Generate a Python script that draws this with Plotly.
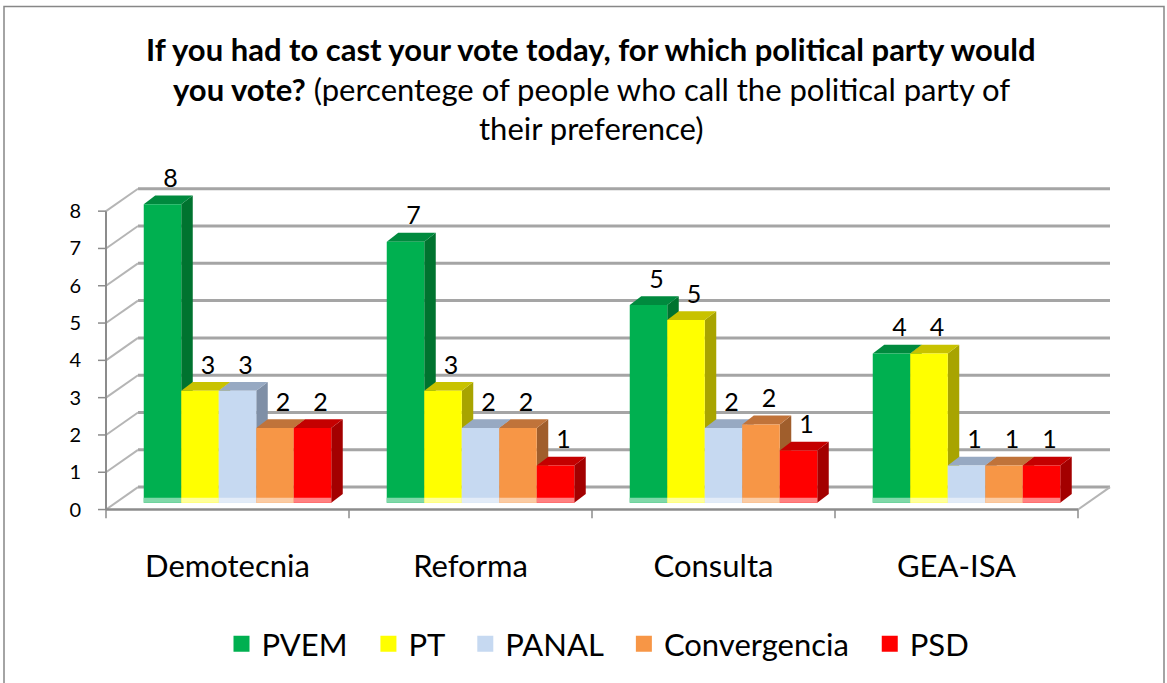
import plotly.graph_objects as go

# ---------------- data ----------------
categories = ["Demotecnia", "Reforma", "Consulta", "GEA-ISA"]
series_names = ["PVEM", "PT", "PANAL", "Convergencia", "PSD"]
pvem = [8.0, 7.0, 5.3, 4.0]
pt = [3.0, 3.0, 4.9, 4.0]
panal = [3.0, 2.0, 2.0, 1.0]
convergencia = [2.0, 2.0, 2.1, 1.0]
psd = [2.0, 1.0, 1.4, 1.0]
y_ticks = [0, 1, 2, 3, 4, 5, 6, 7, 8]

series_values = [pvem, pt, panal, convergencia, psd]

# ---------------- styles ----------------
front_colors = ["#00B050", "#FFFF00", "#C6D9F1", "#F79646", "#FF0000"]
top_colors = ["#008A3E", "#C8C200", "#97A9C2", "#C0733A", "#C40000"]
side_colors = ["#00732F", "#A8A400", "#7F8FA6", "#A05E2C", "#A30000"]
floor_colors = ["#7FD8A8", "#FFFF99", "#E3ECF8", "#FBCBA3", "#FF8080"]

FONT = "Lato"
W, H = 1167, 683
LEGEND_PAD = "\u00a0\u00a0"   # extra spacing between legend items

# plot area (pixels)
PL, PR, PT_, PB = 96, 1122, 178, 540
CATW = 243.0                  # px per category (front plane)
UNIT = 38.25                  # px per value unit (front plane)
FRONT_LEFT = 106              # front axis x=-0.5
FRONT_ZERO = 518              # front axis y=0

XMIN = -0.5 - (FRONT_LEFT - PL) / CATW
XMAX = XMIN + (PR - PL) / CATW
YMIN = -(PB - FRONT_ZERO) / UNIT
YMAX = (FRONT_ZERO - PT_) / UNIT


def dxu(px):
    return px / CATW


def dyu(px):
    return px / UNIT


def paper_x(px):
    return (px - PL) / (PR - PL)


def paper_y(py):
    return (PB - py) / (PB - PT_)


BACK_DX, BACK_DY = dxu(32), dyu(23)     # back wall offset
BAR_DX, BAR_DY = dxu(10), dyu(7)        # bar front face offset
DEP_DX, DEP_DY = dxu(11.5), dyu(9)      # bar depth
BW = dxu(37.5)                          # bar width
N = len(series_names)

fig = go.Figure()
shapes = []
grid_col = "#A5A5A5"
axis_col = "#8C8C8C"

# back wall gridlines + side wall diagonals
for v in y_ticks:
    shapes.append(dict(type="line", xref="x", yref="y", layer="below",
                       x0=-0.5 + BACK_DX, x1=3.5 + BACK_DX,
                       y0=v + BACK_DY, y1=v + BACK_DY,
                       line=dict(color=grid_col, width=3)))
    shapes.append(dict(type="line", xref="x", yref="y", layer="below",
                       x0=-0.5, x1=-0.5 + BACK_DX,
                       y0=v, y1=v + BACK_DY,
                       line=dict(color="#B5B5B5", width=2)))
    shapes.append(dict(type="line", xref="x", yref="y", layer="below",
                       x0=-0.5 - dxu(8), x1=-0.5, y0=v, y1=v,
                       line=dict(color=axis_col, width=1.5)))
# right floor diagonal
shapes.append(dict(type="line", xref="x", yref="y", layer="below",
                   x0=3.5, x1=3.5 + BACK_DX, y0=0, y1=BACK_DY,
                   line=dict(color="#B5B5B5", width=2)))
# front axes
shapes.append(dict(type="line", xref="x", yref="y", layer="below",
                   x0=-0.5, x1=3.5, y0=0, y1=0,
                   line=dict(color=axis_col, width=2.5)))
shapes.append(dict(type="line", xref="x", yref="y", layer="below",
                   x0=-0.5, x1=-0.5, y0=0, y1=max(y_ticks),
                   line=dict(color=axis_col, width=2)))
for k in range(len(categories) + 1):
    shapes.append(dict(type="line", xref="x", yref="y", layer="below",
                       x0=k - 0.5, x1=k - 0.5, y0=0, y1=-dyu(9),
                       line=dict(color=axis_col, width=1.5)))

# 3D faces of bars (drawn below the front faces), left to right
for c in range(len(categories)):
    for i in range(N):
        v = series_values[i][c]
        xc = c + BAR_DX + (i - (N - 1) / 2) * BW
        x0, x1 = xc - BW / 2, xc + BW / 2
        b, t = BAR_DY, BAR_DY + v
        side = (f"M{x1},{b} L{x1},{t} L{x1 + DEP_DX},{t + DEP_DY} "
                f"L{x1 + DEP_DX},{b + DEP_DY} Z")
        top = (f"M{x0},{t} L{x1},{t} L{x1 + DEP_DX},{t + DEP_DY} "
               f"L{x0 + DEP_DX},{t + DEP_DY} Z")
        shapes.append(dict(type="path", xref="x", yref="y", layer="below",
                           path=side, fillcolor=side_colors[i],
                           line=dict(width=0)))
        shapes.append(dict(type="path", xref="x", yref="y", layer="below",
                           path=top, fillcolor=top_colors[i],
                           line=dict(width=0)))
        shapes.append(dict(type="rect", xref="x", yref="y", layer="above",
                           x0=x0, x1=x1, y0=b, y1=b + dyu(5),
                           fillcolor=floor_colors[i], line=dict(width=0)))

label_x, label_y, label_t = [], [], []
for i in range(N):
    xs = [c + BAR_DX + (i - (N - 1) / 2) * BW for c in range(len(categories))]
    fig.add_trace(go.Bar(
        x=xs, y=series_values[i], base=BAR_DY, width=BW,
        marker=dict(color=front_colors[i], line=dict(width=0)),
        name=series_names[i], showlegend=False, hoverinfo="skip"))
    label_x += [x + dxu(8) for x in xs]
    label_y += [v + BAR_DY + dyu(24) for v in series_values[i]]
    label_t += [f"{v:.0f}" for v in series_values[i]]

fig.add_trace(go.Scatter(
    x=label_x, y=label_y, text=label_t, mode="text",
    textfont=dict(family=FONT, size=25, color="#000000"),
    showlegend=False, hoverinfo="skip", cliponaxis=False))

# legend entries
for i in range(N):
    fig.add_trace(go.Scatter(
        x=[None], y=[None], mode="markers",
        name=series_names[i] + LEGEND_PAD,
        marker=dict(symbol="square", size=16, color=front_colors[i]),
        showlegend=True))

# chart border
shapes.append(dict(type="rect", xref="paper", yref="paper", layer="above",
                   x0=paper_x(4), x1=paper_x(1164),
                   y0=paper_y(700), y1=paper_y(2),
                   line=dict(color="#878787", width=1.5),
                   fillcolor="rgba(0,0,0,0)"))

title_lines = [
    "<b>If you had to cast your vote today, for which political party would</b>",
    "<b>you vote?</b> (percentege of people who call the political party of",
    "their preference)",
]
title_y = [46, 87, 127]
annotations = []
for txt, yy in zip(title_lines, title_y):
    annotations.append(dict(text=txt, xref="paper", yref="paper",
                            x=paper_x(591), y=paper_y(yy),
                            xanchor="center", yanchor="middle",
                            showarrow=False,
                            font=dict(family=FONT, size=31, color="#000000")))

fig.update_layout(
    width=W, height=H,
    margin=dict(l=PL, r=W - PR, t=PT_, b=H - PB, pad=0),
    paper_bgcolor="white", plot_bgcolor="white",
    barmode="overlay",
    shapes=shapes, annotations=annotations,
    showlegend=True,
    legend=dict(orientation="h", x=paper_x(606), xanchor="center",
                y=paper_y(656), yanchor="middle",
                font=dict(family=FONT, size=31, color="#000000"),
                bgcolor="rgba(0,0,0,0)", itemsizing="trace"),
    xaxis=dict(range=[XMIN, XMAX], showgrid=False, zeroline=False,
               showline=False, tickmode="array",
               tickvals=list(range(len(categories))), ticktext=categories,
               ticks="", ticklabelstandoff=14,
               tickfont=dict(family=FONT, size=31, color="#000000"),
               fixedrange=True),
    yaxis=dict(range=[YMIN, YMAX], showgrid=False, zeroline=False,
               showline=False, tickmode="array", tickvals=y_ticks,
               ticktext=[str(v) for v in y_ticks], ticks="",
               ticklabelstandoff=14,
               tickfont=dict(family=FONT, size=20, color="#000000"),
               fixedrange=True),
)

# remove the browser's default 8px body margin so the figure fills the window
fig.write_html("out.html",
               config={"displayModeBar": False},
               post_script="document.body.style.margin='0px';")
